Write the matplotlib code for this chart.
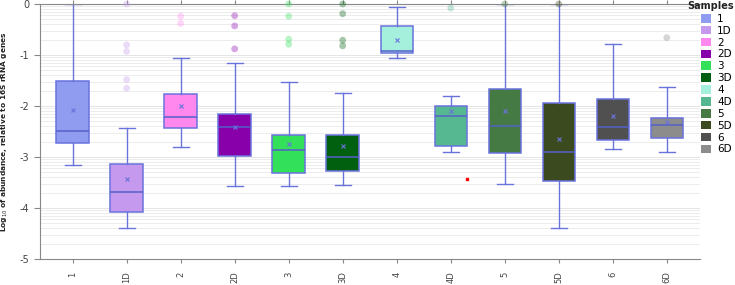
import matplotlib.pyplot as plt
import numpy as np
from matplotlib.patches import Patch

samples = ['1', '1D', '2', '2D', '3', '3D', '4', '4D', '5', '5D', '6', '6D']
colors = ['#8f9cf0', '#c599ee', '#ff88ee', '#8800aa', '#33e05a', '#006010',
          '#a5f0dc', '#55b890', '#457a45', '#3c4a20', '#505050', '#8c8c8c']

whis_low = [-3.16, -4.40, -2.80, -3.56, -3.57, -3.54, -1.05, -2.91, -3.53, -4.39, -2.85, -2.91]
q1 = [-2.73, -4.07, -2.43, -2.97, -3.31, -3.27, -0.97, -2.79, -2.92, -3.47, -2.67, -2.63]
median = [-2.49, -3.68, -2.22, -2.41, -2.87, -2.99, -0.92, -2.19, -2.39, -2.91, -2.42, -2.37]
q3 = [-1.51, -3.13, -1.77, -2.15, -2.57, -2.57, -0.44, -1.99, -1.67, -1.95, -1.86, -2.23]
whis_high = [0.0, -2.43, -1.05, -1.16, -1.52, -1.75, -0.05, -1.80, 0.0, 0.0, -0.79, -1.63]
mean = [-2.07, -3.43, -2.00, -2.42, -2.75, -2.79, -0.70, -2.10, -2.10, -2.65, -2.20, -2.32]
outliers = [
    [],
    [0.0, -0.80, -0.93, -1.48, -1.65],
    [-0.24, -0.38],
    [-0.23, -0.43, -0.88],
    [0.0, -0.24, -0.69, -0.79],
    [0.0, -0.19, -0.71, -0.82],
    [],
    [-0.08],
    [0.0],
    [0.0],
    [],
    [-0.66],
]
# stray red point between 4D and 5
stray_x = [7.3]
stray_y = [-3.44]

edge = '#6a72dc'

fig = plt.figure(figsize=(7.35, 2.85), dpi=100)
ax = fig.add_axes([0.054, 0.091, 0.898, 0.895])

# log-style minor grid inside each decade
minor = [n + np.log10(k) for n in range(-5, 0) for k in range(2, 10)]
for y in minor:
    ax.axhline(y, color='#ececec', lw=0.7, zorder=0)
for y in range(-5, 1):
    ax.axhline(y, color='#e4e4e4', lw=0.7, zorder=0)

stats = []
for i in range(len(samples)):
    stats.append(dict(label=samples[i], whislo=whis_low[i], q1=q1[i], med=median[i],
                      q3=q3[i], whishi=whis_high[i], mean=mean[i], fliers=[]))

pos = np.arange(len(samples))
bp = ax.bxp(stats, positions=pos, widths=0.6, patch_artist=True, showmeans=True,
            showfliers=False, capwidths=0.3,
            boxprops=dict(edgecolor=edge, lw=1.1),
            medianprops=dict(color='#5560c8', lw=1.1),
            whiskerprops=dict(color=edge, lw=1.0),
            capprops=dict(color=edge, lw=1.0),
            meanprops=dict(marker='x', markeredgecolor='#6a72dc', markersize=3.5,
                           markeredgewidth=0.8))
for patch, c in zip(bp['boxes'], colors):
    patch.set_facecolor(c)

for i, vals in enumerate(outliers):
    if not vals:
        continue
    ax.scatter([pos[i]] * len(vals), vals, s=24, color=colors[i], alpha=0.35,
               edgecolors='none', zorder=4, clip_on=False)

ax.scatter(stray_x, stray_y, s=3, color='red', marker='s', zorder=4)

ax.set_xlim(-0.61, 11.61)
ax.set_ylim(-5, 0)
ax.set_xticks(pos)
ax.set_xticklabels(samples, rotation=90, fontsize=6, color='#444444')
ax.set_yticks(range(-5, 1))
ax.set_yticklabels([str(v) for v in range(-5, 1)], fontsize=7, color='#444444')
ax.tick_params(axis='x', which='both', top=True, direction='out', length=3, color='#888888', pad=6)
ax.tick_params(axis='y', direction='out', length=4, color='#888888')
for s in ['left', 'bottom', 'top']:
    ax.spines[s].set_color('#888888')
ax.spines['right'].set_visible(False)
ax.set_ylabel('Log$_{10}$ of abundance, relative to 16S rRNA genes', fontsize=5.3,
              fontweight='bold', color='#222222')
ax.yaxis.set_label_coords(-0.045, 0.5)

handles = [Patch(facecolor=c, edgecolor='none') for c in colors]
leg = fig.legend(handles, samples, loc='upper left',
                 bbox_to_anchor=(0.953, 0.955), frameon=False, fontsize=7.5,
                 handlelength=0.9, handleheight=0.9, handletextpad=0.6,
                 labelspacing=0.18, borderaxespad=0.0, borderpad=0.1)
fig.text(0.998, 0.995, 'Samples', ha='right', va='top', fontsize=7,
         fontweight='bold', color='#222222')

fig.savefig('out.png', dpi=100)
